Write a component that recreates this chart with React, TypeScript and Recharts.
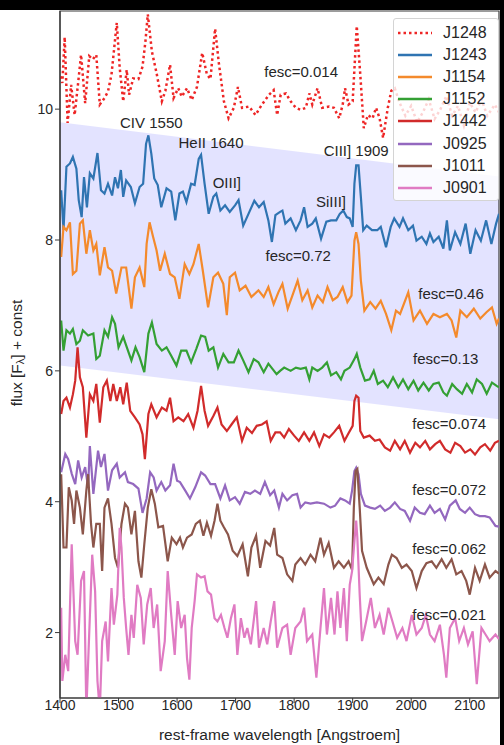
import { ComposedChart, Line, Area, XAxis, YAxis, ReferenceDot, ReferenceArea } from "recharts";

type Pt = [number, number];

// spectra: [rest-frame wavelength, flux + const]
const J1248: Pt[] = [[1401,10.5],[1404,10.4],[1408,11.1],[1413,9.79],[1419,10.37],[1425,9.91],[1430,10.32],[1436,10.83],[1443,10.09],[1450,10.81],[1456,10.76],[1462,10.83],[1468,10.07],[1476,10.17],[1482,10.27],[1488,10.53],[1497,11.32],[1502,10.63],[1508,10.12],[1514,10.6],[1518,10.22],[1525,10.47],[1534,10.46],[1541,10.65],[1546,11.04],[1550,11.45],[1557,10.88],[1565,10.55],[1574,10.12],[1580,10.28],[1588,10.68],[1594,10.17],[1602,10.32],[1608,10.19],[1617,10.32],[1625,10.14],[1634,10.34],[1643,10.86],[1651,10.53],[1657,10.46],[1665,11.23],[1671,10.73],[1680,10.12],[1688,9.86],[1697,10.02],[1704,10.34],[1711,10.02],[1723,10.04],[1734,9.91],[1745,10.07],[1757,10.22],[1765,10.29],[1771,9.91],[1777,10.22],[1786,10.24],[1794,10.12],[1803,10.02],[1811,9.99],[1820,10.02],[1826,10.24],[1831,10.07],[1840,10.32],[1848,10.02],[1860,10.04],[1868,10.02],[1877,9.86],[1883,10.07],[1887,10.32],[1893,10.07],[1900,10.12],[1907,11.27],[1913,10.53],[1919,9.71],[1926,9.91],[1934,9.86],[1940,10.02],[1946,9.86],[1952,9.56],[1960,10.02],[1966,10.28],[1972,10.32],[1980,10.1],[1990,9.9],[2000,10.05],[2010,9.8],[2020,9.95],[2030,10.15],[2040,9.85],[2050,10.0],[2060,10.2],[2070,9.9],[2080,10.05],[2090,9.75],[2100,10.1],[2110,9.95],[2120,10.15],[2130,9.9],[2143,10.07],[2150,9.95]];

const J1243: Pt[] = [[1402,8.76],[1406,8.15],[1411,9.12],[1417,9.17],[1422,9.27],[1428,9.09],[1432,8.61],[1437,8.35],[1441,8.96],[1446,8.5],[1451,9.02],[1457,8.94],[1464,9.33],[1470,8.76],[1476,8.71],[1482,8.86],[1489,8.68],[1494,8.96],[1499,8.79],[1504,9.07],[1508,8.66],[1513,8.91],[1521,8.81],[1528,8.56],[1536,8.81],[1542,8.86],[1547,9.47],[1551,9.6],[1556,9.32],[1561,8.94],[1567,8.84],[1573,8.5],[1582,8.79],[1590,8.74],[1597,8.3],[1604,8.71],[1610,8.74],[1616,8.58],[1624,8.86],[1630,8.84],[1637,9.24],[1641,9.3],[1647,8.86],[1654,8.4],[1662,8.66],[1667,8.71],[1674,8.45],[1682,8.53],[1690,8.43],[1699,8.53],[1705,8.61],[1713,8.22],[1722,8.4],[1732,8.6],[1740,8.5],[1748,8.58],[1756,8.3],[1762,7.97],[1768,8.38],[1776,8.43],[1780,8.45],[1785,8.25],[1794,8.33],[1803,8.15],[1811,8.3],[1817,8.5],[1823,8.2],[1831,8.25],[1837,8.33],[1846,8.02],[1855,8.28],[1863,8.3],[1872,8.3],[1878,8.4],[1884,8.45],[1890,8.35],[1895,8.33],[1900,8.2],[1903,8.86],[1906,9.14],[1910,9.14],[1914,8.66],[1918,8.15],[1924,8.22],[1933,8.15],[1942,8.15],[1948,8.2],[1957,7.89],[1965,8.2],[1971,8.33],[1980,8.2],[1986,8.33],[1995,8.15],[2003,8.22],[2009,7.99],[2018,8.05],[2026,7.94],[2032,8.1],[2038,7.97],[2047,8.05],[2055,7.87],[2061,8.3],[2066,7.84],[2075,8.12],[2084,7.94],[2093,8.25],[2101,7.79],[2110,8.15],[2119,7.99],[2128,8.3],[2137,7.94],[2145,8.25],[2150,8.4]];

const J1154: Pt[] = [[1402,7.74],[1406,8.2],[1411,8.15],[1417,8.27],[1422,7.48],[1428,7.53],[1434,8.25],[1439,8.3],[1445,7.79],[1451,8.15],[1457,7.84],[1462,7.94],[1468,7.46],[1476,7.89],[1482,7.58],[1489,7.53],[1496,7.18],[1505,7.58],[1513,7.58],[1522,6.95],[1528,7.43],[1536,7.58],[1544,7.28],[1548,7.94],[1553,8.27],[1559,8.05],[1565,7.84],[1571,7.53],[1579,7.79],[1588,7.48],[1596,7.43],[1604,7.1],[1613,7.63],[1621,7.48],[1628,7.63],[1637,7.94],[1644,7.53],[1653,6.97],[1662,7.43],[1670,7.5],[1679,7.33],[1685,6.85],[1690,7.43],[1699,7.5],[1707,7.23],[1717,7.3],[1727,7.13],[1739,7.23],[1748,7.13],[1756,7.28],[1765,7.02],[1773,7.2],[1780,7.33],[1789,6.95],[1797,7.15],[1806,7.38],[1814,7.08],[1823,7.23],[1831,6.97],[1840,7.15],[1849,7.05],[1857,7.28],[1866,7.08],[1874,7.13],[1883,7.28],[1891,7.05],[1898,7.15],[1903,7.99],[1906,8.12],[1910,7.94],[1914,7.38],[1920,6.92],[1930,7.05],[1939,6.95],[1948,7.07],[1957,6.87],[1966,6.62],[1974,6.92],[1981,6.87],[1995,7.2],[2004,6.77],[2015,6.92],[2027,6.72],[2038,6.87],[2049,6.82],[2061,6.87],[2069,6.77],[2077,6.51],[2084,6.92],[2095,6.82],[2107,6.95],[2118,6.8],[2129,6.9],[2138,6.97],[2146,6.72],[2150,6.8]];

const J1152: Pt[] = [[1402,6.77],[1406,6.31],[1411,6.62],[1417,6.57],[1422,6.64],[1428,6.41],[1434,6.46],[1439,6.62],[1448,6.54],[1457,6.57],[1462,6.18],[1468,6.23],[1476,6.62],[1482,6.52],[1489,6.82],[1494,6.72],[1500,6.36],[1508,6.52],[1513,6.39],[1522,6.16],[1529,6.36],[1536,6.21],[1544,5.98],[1551,6.57],[1557,6.74],[1565,6.41],[1574,6.31],[1582,6.36],[1590,6.23],[1599,6.08],[1607,6.31],[1616,6.31],[1624,6.13],[1633,6.34],[1641,6.54],[1648,6.52],[1654,6.31],[1662,6.36],[1670,6.05],[1679,6.26],[1688,6.13],[1697,6.13],[1705,6.31],[1713,6.16],[1722,5.98],[1731,6.18],[1739,6.13],[1748,5.98],[1756,6.11],[1763,6.03],[1770,5.95],[1776,6.0],[1783,6.05],[1794,6.0],[1803,6.05],[1811,6.03],[1820,6.05],[1826,5.87],[1831,6.05],[1840,6.0],[1848,6.05],[1856,6.13],[1863,5.93],[1872,5.98],[1880,5.87],[1886,6.0],[1895,6.05],[1903,6.18],[1907,6.26],[1913,6.05],[1921,5.85],[1929,5.87],[1936,6.0],[1943,5.8],[1952,5.85],[1960,5.75],[1969,5.9],[1978,5.75],[1986,5.87],[1995,5.72],[2004,5.85],[2012,5.7],[2021,5.82],[2030,5.7],[2038,5.8],[2047,5.82],[2055,5.67],[2061,5.62],[2070,5.8],[2078,5.72],[2087,5.65],[2095,5.8],[2104,5.67],[2112,5.87],[2121,5.8],[2129,5.65],[2138,5.82],[2146,5.77],[2150,5.75]];

const J1442: Pt[] = [[1402,5.34],[1406,5.54],[1411,5.59],[1417,5.44],[1422,5.64],[1426,5.85],[1430,6.36],[1434,5.9],[1439,5.75],[1445,4.98],[1451,5.64],[1457,5.54],[1462,5.8],[1468,5.21],[1474,5.75],[1480,5.85],[1486,5.54],[1491,5.8],[1497,5.54],[1503,5.75],[1508,5.49],[1514,5.82],[1520,5.39],[1528,5.29],[1536,5.18],[1541,5.03],[1545,4.65],[1551,5.34],[1556,5.49],[1565,5.29],[1574,5.44],[1582,5.39],[1588,5.59],[1594,5.23],[1602,5.29],[1611,5.23],[1619,5.34],[1628,5.13],[1635,5.39],[1641,5.77],[1647,5.39],[1653,5.16],[1662,5.31],[1669,5.44],[1676,5.18],[1685,5.08],[1693,5.18],[1702,5.29],[1711,4.93],[1719,5.13],[1728,5.05],[1736,5.16],[1745,5.18],[1753,5.23],[1760,4.93],[1768,5.06],[1776,5.06],[1783,4.98],[1791,5.11],[1800,5.01],[1808,4.93],[1817,5.06],[1826,4.93],[1834,5.06],[1843,4.85],[1851,5.03],[1860,4.98],[1868,5.06],[1877,5.16],[1886,4.93],[1892,5.03],[1900,5.16],[1903,5.54],[1906,5.62],[1910,5.59],[1913,5.08],[1919,4.98],[1929,5.01],[1938,4.93],[1946,4.95],[1955,4.83],[1964,4.78],[1972,4.93],[1981,4.8],[1989,4.93],[1998,4.75],[2007,4.9],[2015,4.83],[2024,4.93],[2032,4.8],[2041,4.88],[2049,4.93],[2058,4.8],[2067,4.75],[2075,4.9],[2084,4.85],[2092,4.75],[2101,4.8],[2109,4.72],[2118,4.83],[2126,4.88],[2135,4.78],[2143,4.9],[2150,4.93]];

const J0925: Pt[] = [[1402,4.45],[1409,4.73],[1414,4.65],[1420,4.43],[1426,4.27],[1431,4.63],[1437,4.37],[1443,4.53],[1448,4.22],[1451,4.85],[1457,4.12],[1465,4.78],[1470,4.53],[1476,4.73],[1482,4.17],[1489,4.48],[1497,4.58],[1502,4.37],[1511,4.45],[1516,4.3],[1525,4.27],[1534,4.2],[1541,3.83],[1548,4.05],[1554,4.45],[1560,4.37],[1565,4.17],[1573,4.3],[1580,4.17],[1588,4.25],[1594,4.58],[1600,4.32],[1605,4.3],[1614,4.17],[1622,4.05],[1631,4.22],[1641,4.45],[1648,4.4],[1657,4.27],[1665,4.27],[1674,4.05],[1682,4.25],[1690,4.02],[1699,4.07],[1707,3.97],[1716,4.15],[1725,4.12],[1733,4.17],[1742,4.12],[1750,4.3],[1759,4.1],[1766,4.17],[1774,3.91],[1780,4.12],[1788,4.02],[1797,4.1],[1805,4.12],[1811,3.91],[1819,3.99],[1828,3.97],[1839,3.99],[1851,3.97],[1862,3.91],[1870,3.94],[1879,4.05],[1887,4.02],[1895,3.97],[1899,4.17],[1903,4.47],[1906,4.52],[1910,4.42],[1914,4.12],[1921,3.94],[1930,3.91],[1938,3.89],[1947,3.94],[1955,3.86],[1964,3.91],[1972,3.99],[1981,3.89],[1989,3.86],[1998,3.71],[2006,3.91],[2015,3.83],[2023,3.81],[2032,3.94],[2040,3.83],[2049,3.89],[2058,3.73],[2066,3.94],[2076,4.02],[2083,3.89],[2092,3.83],[2100,3.91],[2109,3.81],[2117,3.78],[2126,3.78],[2134,3.76],[2144,3.63],[2150,3.62]];

const J1011: Pt[] = [[1402,4.42],[1406,3.3],[1411,3.3],[1415,4.22],[1420,4.02],[1424,3.66],[1428,4.17],[1434,3.91],[1439,3.5],[1445,4.17],[1448,4.42],[1453,3.66],[1457,3.3],[1462,3.66],[1468,3.66],[1472,2.94],[1476,3.91],[1482,4.05],[1488,3.66],[1494,3.14],[1499,2.99],[1505,3.66],[1511,3.97],[1516,3.91],[1522,3.5],[1528,3.86],[1534,3.09],[1539,2.84],[1544,3.35],[1550,3.91],[1556,4.19],[1562,3.97],[1568,3.61],[1576,3.63],[1584,3.09],[1591,3.45],[1599,3.35],[1605,3.45],[1610,3.3],[1617,3.45],[1625,3.5],[1632,3.66],[1639,3.71],[1645,3.48],[1651,3.68],[1658,3.48],[1664,3.71],[1669,3.97],[1674,3.71],[1680,3.61],[1687,3.5],[1695,3.25],[1703,3.17],[1712,3.35],[1721,2.86],[1727,3.3],[1735,3.48],[1742,2.99],[1751,3.4],[1759,3.33],[1766,3.6],[1771,3.19],[1780,3.14],[1788,2.89],[1797,2.79],[1802,3.04],[1811,3.14],[1819,3.04],[1828,3.19],[1836,3.09],[1845,3.45],[1851,3.19],[1859,3.37],[1868,2.99],[1876,3.09],[1885,2.99],[1893,3.09],[1899,2.96],[1902,3.91],[1905,4.47],[1908,4.5],[1912,3.91],[1916,3.25],[1924,2.99],[1936,2.74],[1944,2.84],[1953,2.74],[1961,3.04],[1967,3.19],[1975,3.14],[1984,2.99],[1992,3.04],[2001,2.94],[2009,2.68],[2018,2.94],[2026,3.06],[2035,3.09],[2043,2.99],[2052,3.12],[2060,2.99],[2069,3.12],[2077,2.89],[2086,2.94],[2094,2.79],[2100,2.58],[2109,2.99],[2117,2.79],[2126,3.04],[2134,2.84],[2144,2.94],[2150,2.9]];

const J0901: Pt[] = [[1402,2.38],[1404,1.26],[1409,1.66],[1414,1.41],[1420,3.35],[1426,1.87],[1430,1.66],[1436,2.79],[1441,2.94],[1445,0.8],[1449,1.77],[1455,3.19],[1460,2.63],[1464,1.26],[1468,0.8],[1472,1.87],[1478,2.17],[1482,1.56],[1488,2.68],[1492,2.12],[1498,2.58],[1502,3.6],[1505,3.3],[1509,2.53],[1513,2.07],[1517,1.66],[1522,2.27],[1526,1.92],[1532,2.73],[1538,2.53],[1543,1.82],[1549,2.43],[1555,2.68],[1560,2.07],[1566,2.43],[1572,1.41],[1579,1.87],[1584,2.94],[1590,2.27],[1596,1.66],[1601,2.48],[1607,2.07],[1613,2.27],[1617,1.61],[1621,1.28],[1625,2.07],[1630,2.48],[1634,2.89],[1641,2.84],[1647,2.86],[1652,2.63],[1658,2.58],[1664,2.22],[1669,2.17],[1675,2.27],[1681,2.07],[1686,1.92],[1692,2.22],[1698,2.43],[1703,1.66],[1709,2.22],[1715,1.92],[1720,2.07],[1726,1.82],[1735,2.48],[1740,1.77],[1748,2.07],[1754,1.82],[1760,2.17],[1766,2.48],[1771,1.77],[1780,2.07],[1788,2.12],[1794,1.66],[1802,2.07],[1811,2.17],[1817,2.38],[1822,1.87],[1831,1.97],[1838,1.31],[1845,2.07],[1851,2.68],[1856,1.97],[1863,2.53],[1869,1.97],[1874,2.63],[1879,2.07],[1885,2.68],[1890,1.87],[1895,2.73],[1899,2.94],[1903,3.4],[1906,3.71],[1908,3.45],[1912,2.58],[1916,1.87],[1923,2.17],[1931,2.53],[1938,2.07],[1946,2.27],[1953,1.97],[1961,2.38],[1968,2.17],[1976,1.92],[1985,2.07],[1992,1.87],[2001,2.27],[2009,1.97],[2018,2.07],[2025,2.27],[2032,1.97],[2040,1.87],[2049,2.12],[2056,1.66],[2060,1.31],[2066,2.07],[2075,2.22],[2082,1.87],[2090,2.07],[2097,1.82],[2105,2.02],[2112,1.21],[2120,2.07],[2127,1.97],[2134,1.87],[2144,1.97],[2150,1.9]];

const NAMES = ["J1248", "J1243", "J1154", "J1152", "J1442", "J0925", "J1011", "J0901"];
const SPECTRA = [J1248, J1243, J1154, J1152, J1442, J0925, J1011, J0901];
const COLORS = ["#ee2525", "#2f74b2", "#f48a2c", "#34a034", "#d12b2b", "#9468bf", "#8c564b", "#e07bc3"];

// shaded band edges
const BAND_WL = [1400, 2150];
const BAND_LOW = [6.08, 5.26];
const BAND_HIGH = [9.8, 8.97];

const X_TICKS = [1400, 1500, 1600, 1700, 1800, 1900, 2000, 2100];
const Y_TICKS = [2, 4, 6, 8, 10];

const NOTES = [
  { text: "fesc=0.014", wl: 1812, y: 10.58 },
  { text: "CIV 1550", wl: 1556, y: 9.79 },
  { text: "HeII 1640", wl: 1658, y: 9.48 },
  { text: "OIII]", wl: 1685, y: 8.87 },
  { text: "CIII] 1909", wl: 1906, y: 9.36 },
  { text: "SiIII]", wl: 1863, y: 8.58 },
  { text: "fesc=0.72", wl: 1807, y: 7.76 },
  { text: "fesc=0.46", wl: 2068, y: 7.18 },
  { text: "fesc=0.13", wl: 2059, y: 6.19 },
  { text: "fesc=0.074", wl: 2065, y: 5.19 },
  { text: "fesc=0.072", wl: 2065, y: 4.18 },
  { text: "fesc=0.062", wl: 2065, y: 3.28 },
  { text: "fesc=0.021", wl: 2065, y: 2.28 },
];

const FONT = "'Liberation Sans', Arial, sans-serif";
const INK = "#262626";
const EDGE = "#3a3a3a";

const bandRows = BAND_WL.map((wl, i) => ({ wl, band: [BAND_LOW[i], BAND_HIGH[i]] }));

function YTitle() {
  const cx = 16;
  const cy = 343;
  return (
    <text
      x={cx}
      y={cy}
      transform={`rotate(-90 ${cx} ${cy})`}
      textAnchor="middle"
      dominantBaseline="central"
      fontSize={15.5}
      fontFamily={FONT}
      fill={INK}
    >
      flux [F<tspan fontSize={11} dy={4}>λ</tspan>
      <tspan dy={-4}>] + const</tspan>
    </text>
  );
}

export default function App() {
  return (
    <div style={{ position: "absolute", left: 0, top: 0, width: 504, height: 745, background: "#000" }}>
      <div style={{ position: "absolute", left: 0, top: 10, width: 500, height: 735, background: "#fff" }}>
        <ComposedChart width={500} height={735} margin={{ top: 1, right: 1, bottom: 0, left: 0 }} style={{ fontFamily: FONT }}>
          <Area
            data={bandRows}
            dataKey="band"
            type="linear"
            fill="#0000ff"
            fillOpacity={0.11}
            stroke="none"
            isAnimationActive={false}
            activeDot={false}
          />
          <XAxis
            dataKey="wl"
            type="number"
            domain={[1400, 2150]}
            allowDataOverflow
            ticks={X_TICKS}
            height={47}
            tickSize={5}
            tickMargin={-3}
            tick={{ fontSize: 14, fill: INK }}
            tickLine={{ stroke: EDGE }}
            axisLine={{ stroke: EDGE, strokeWidth: 1.2 }}
            label={{ value: "rest-frame wavelength [Angstroem]", position: "insideBottom", offset: 5, fontSize: 15.5, fill: INK }}
          />
          <YAxis
            type="number"
            domain={[1, 11.5]}
            allowDataOverflow
            ticks={Y_TICKS}
            width={60}
            tickSize={5}
            tick={{ fontSize: 14, fill: INK }}
            tickLine={{ stroke: EDGE }}
            axisLine={{ stroke: EDGE, strokeWidth: 1.2 }}
            label={<YTitle />}
          />
          <ReferenceArea x1={1400} x2={2150} y1={1} y2={11.5} fill="none" stroke={EDGE} strokeWidth={1.2} />
          {SPECTRA.map((pts, i) => (
            <Line
              key={NAMES[i]}
              data={pts.map(([wl, f]) => ({ wl, f }))}
              dataKey="f"
              name={NAMES[i]}
              type="linear"
              stroke={COLORS[i]}
              strokeWidth={i === 0 ? 2.5 : 2.2}
              strokeDasharray={i === 0 ? "2.5 3" : undefined}
              dot={false}
              activeDot={false}
              isAnimationActive={false}
            />
          ))}
          {NOTES.map((n) => (
            <ReferenceDot
              key={n.text}
              x={n.wl}
              y={n.y}
              r={0}
              fill="none"
              stroke="none"
              label={{ value: n.text, position: "center", fontSize: 15, fill: INK }}
            />
          ))}
        </ComposedChart>
      </div>
      <div
        style={{
          position: "absolute",
          left: 393,
          top: 18,
          width: 106,
          height: 183,
          boxSizing: "border-box",
          background: "rgba(255,255,255,0.8)",
          border: "1px solid #d4d4d4",
          borderRadius: 3,
          paddingTop: 3,
          fontFamily: FONT,
          fontSize: 16,
          color: INK,
        }}
      >
        {NAMES.map((n, i) => (
          <div key={n} style={{ display: "flex", alignItems: "center", height: 22.1 }}>
            <svg width={34} height={4} style={{ marginLeft: 4, marginRight: 11 }}>
              <line
                x1={0}
                y1={2}
                x2={34}
                y2={2}
                stroke={COLORS[i]}
                strokeWidth={2.5}
                strokeDasharray={i === 0 ? "2.5 3" : undefined}
              />
            </svg>
            <span>{n}</span>
          </div>
        ))}
      </div>
    </div>
  );
}
